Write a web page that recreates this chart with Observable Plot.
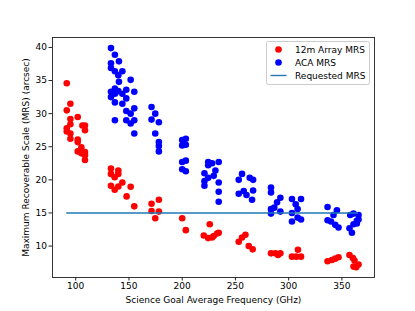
<!DOCTYPE html>
<html>
<head>
<meta charset="utf-8">
<script src="https://cdn.jsdelivr.net/npm/d3@7"></script>
<script src="https://cdn.jsdelivr.net/npm/@observablehq/plot@0.6"></script>
<style>
  html, body { margin: 0; padding: 0; background: #fff; }
  #chart { width: 415px; height: 311px; }
</style>
</head>
<body>
<div id="chart"></div>
<script>
// 12m Array MRS (red)
const redFreq = [91.6,95.0,91.6,95.0,101.9,95.0,91.6,91.6,95.0,95.0,106.3,108.7,108.7,101.9,101.9,105.3,101.9,105.3,108.7,108.7,108.7,
  133.1,133.1,140,140,136.6,133.1,143.8,140,136.6,151.6,147.8,155,
  171.2,178.1,171.2,178.1,174.7,
  200,203.4,
  220.3,224.4,225.9,228.1,229.6,232.8,234.3,
  253.1,256.2,259.4,262.5,266.2,
  283.4,287.5,290,292.2,303.1,307.2,308.7,311.6,
  336.5,340.6,343.7,346.8,357.1,360.3,361.8,360.9,365.6,363.4];
const redMRS = [34.6,31.5,30.5,29.2,29.5,28.4,27.8,27.3,27.0,26.2,28.2,28.2,27.5,26.1,25.7,24.9,24.3,24.0,24.2,23.7,23.0,
  21.7,20.9,21.4,20.9,20.4,19.1,19.6,19.0,18.5,18.95,17.5,16.0,
  16.4,17.0,15.3,15.2,14.2,
  14.2,12.4,
  11.6,11.2,13.3,11.3,11.5,11.9,12.0,
  10.65,11.3,11.7,10.0,9.5,
  8.9,8.9,8.65,8.9,8.4,8.4,9.45,8.4,
  7.7,7.9,8.1,8.3,8.65,8.2,7.8,6.9,7.2,6.8];

// ACA MRS (blue)
const blueFreq = [133.1,136.8,140.6,133.1,133.1,136.8,143.8,140,140.6,151.6,133.1,133.1,136.8,136.8,140,147.5,155,143.8,136.8,147.5,143.8,147.5,155,151.6,136.8,147.5,151.6,155,155,
  171.2,174.7,171.2,178.1,174.7,178.1,178.1,178.1,
  200,203.4,200,203.4,200,203.4,200,203.4,
  224.4,224.4,220.9,224.4,220.9,220.9,228.1,234.3,231.2,229.6,234.3,234.3,234.3,
  256.2,253.1,263.4,266.6,253.1,257.8,260.4,266.6,265.6,
  283.4,283.4,292.2,289.1,283.4,286.5,283.4,292.2,
  303.1,311.6,306.6,308.4,303.1,308.4,311.6,303.1,
  336.5,345.3,342.1,336.5,339.7,343.7,346.8,
  357.8,360.9,365.6,364,360.9,357.1,359.4,364,365.6];
const blueMRS = [39.9,38.9,37.9,37.6,36.9,36.4,36.4,35.8,34.8,35.1,33.3,32.5,33.8,33.0,33.4,33.6,33.3,33.0,31.7,32.3,31.5,30.4,30.8,30.0,29.0,29.0,28.5,29.0,27.0,
  31.0,30.0,29.1,28.7,27.0,25.7,25.1,24.3,
  26.0,26.2,25.2,25.3,22.7,22.9,21.6,21.3,
  22.7,22.2,21.0,20.3,19.8,19.1,22.5,22.7,21.4,20.6,19.6,18.2,16.7,
  20.9,20.0,20.3,20.0,17.9,18.3,17.7,18.4,17.0,
  18.85,18.1,17.3,16.6,15.6,15.8,14.9,15.2,
  17.1,17.1,16.3,15.6,15.0,14.3,14.0,13.7,
  15.9,15.4,14.7,13.9,13.7,13.2,12.8,
  14.7,14.9,14.7,13.8,13.3,12.7,12.0,13.4,14.0];

const requestedMRS = 15;
const xTicks = [100,150,200,250,300,350];
const yTicks = [10,15,20,25,30,35,40];
const seriesNames = ["12m Array MRS", "ACA MRS", "Requested MRS"];
const seriesColors = ["#ff0000", "#0000ff", "#1f77b4"];

const red = redFreq.map((f, i) => ({freq: f, mrs: redMRS[i]}));
const blue = blueFreq.map((f, i) => ({freq: f, mrs: blueMRS[i]}));
const allFreq = redFreq.concat(blueFreq);
const req = [{x1: d3.min(allFreq), x2: d3.max(allFreq), y: requestedMRS}];

const plot = Plot.plot({
  width: 415,
  height: 311,
  marginLeft: 52,
  marginRight: 41,
  marginTop: 37,
  marginBottom: 34,
  style: {fontFamily: "DejaVu Sans", fontSize: "9px", color: "#000", background: "#fff", overflow: "visible"},
  x: {domain: [78.2, 380.6]},
  y: {domain: [5.25, 41.5]},
  marks: [
    Plot.dot(red, {x: "freq", y: "mrs", r: 3.3, fill: seriesColors[0], stroke: "none"}),
    Plot.dot(blue, {x: "freq", y: "mrs", r: 3.3, fill: seriesColors[1], stroke: "none"}),
    Plot.ruleY(req, {x1: "x1", x2: "x2", y: "y", stroke: seriesColors[2], strokeWidth: 1.4}),
    Plot.frame({stroke: "#222", strokeWidth: 0.9}),
    Plot.axisX({ticks: xTicks, tickSize: 3.5, tickPadding: 2, label: "Science Goal Average Frequency (GHz)", labelAnchor: "center", labelArrow: "none", labelOffset: 25, stroke: "#222"}),
    Plot.axisY({ticks: yTicks, tickSize: 3.5, tickPadding: 2, label: "Maximum Recoverable Scale (MRS) (arcsec)", labelAnchor: "center", labelArrow: "none", labelOffset: 30, stroke: "#222"})
  ]
});

document.getElementById("chart").appendChild(plot);

// legend (upper right, inside axes)
const svg = d3.select(plot);
const lg = svg.append("g").attr("font-family", "DejaVu Sans").attr("font-size", "9px").attr("text-anchor", "start");
lg.append("rect").attr("x", 266.5).attr("y", 41.5).attr("width", 103).attr("height", 43)
  .attr("fill", "#fff").attr("fill-opacity", 0.8).attr("stroke", "#ccc").attr("stroke-width", 1).attr("rx", 2);
const rowsY = [49.5, 62.5, 75.5];
seriesNames.forEach((name, i) => {
  if (i < 2) {
    lg.append("circle").attr("cx", 278.5).attr("cy", rowsY[i]).attr("r", 3.3).attr("fill", seriesColors[i]);
  } else {
    lg.append("line").attr("x1", 270.5).attr("x2", 286.5).attr("y1", rowsY[i]).attr("y2", rowsY[i])
      .attr("stroke", seriesColors[i]).attr("stroke-width", 1.4);
  }
  lg.append("text").attr("x", 295).attr("y", rowsY[i]).attr("dy", "0.35em").attr("text-anchor", "start").attr("fill", "#000").text(name);
});
</script>
</body>
</html>
